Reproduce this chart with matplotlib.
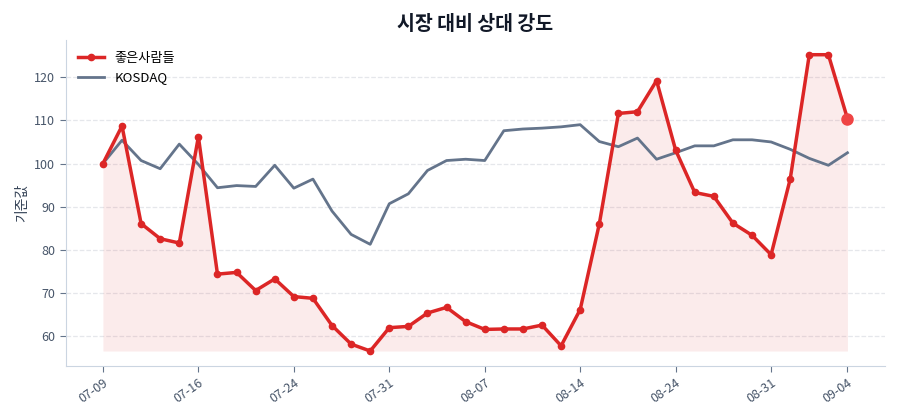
import matplotlib
matplotlib.use("Agg")
import matplotlib.pyplot as plt
import numpy as np

plt.rcParams['font.family'] = ['Noto Sans CJK KR', 'DejaVu Sans']

dates = ['07-09', '07-10', '07-11', '07-14', '07-15', '07-16', '07-17', '07-18', '07-21', '07-23',
         '07-24', '07-25', '07-28', '07-29', '07-30', '07-31', '08-01', '08-04', '08-05', '08-06',
         '08-07', '08-08', '08-11', '08-12', '08-13', '08-14', '08-18', '08-19', '08-20', '08-21',
         '08-24', '08-25', '08-26', '08-27', '08-28', '08-31', '09-01', '09-02', '09-03', '09-04']

stock = [100.0, 108.7, 86.1, 82.6, 81.6, 106.2, 74.4, 74.8, 70.6, 73.3,
         69.2, 68.8, 62.5, 58.2, 56.6, 62.0, 62.3, 65.4, 66.7, 63.4,
         61.6, 61.7, 61.7, 62.6, 57.8, 66.2, 86.0, 111.6, 112.0, 119.2,
         103.1, 93.3, 92.4, 86.2, 83.4, 78.9, 96.4, 125.2, 125.2, 110.4]

kosdaq = [100.0, 105.4, 100.7, 98.8, 104.5, 99.8, 94.4, 94.9, 94.7, 99.6,
          94.3, 96.4, 89.0, 83.6, 81.3, 90.7, 93.0, 98.4, 100.7, 101.0,
          100.7, 107.6, 108.0, 108.2, 108.5, 109.0, 105.1, 103.9, 105.9, 101.0,
          102.5, 104.1, 104.1, 105.5, 105.5, 105.0, 103.3, 101.2, 99.6, 102.5]

stock_name = '좋은사람들'
red = '#DC2626'
slate = '#64748B'

x = np.arange(len(dates))

fig, ax = plt.subplots(figsize=(9, 4.2), dpi=100)
fig.subplots_adjust(left=0.073, right=0.983, bottom=0.129, top=0.905)

ax.fill_between(x, stock, min(stock), color=red, alpha=0.09, linewidth=0)
ax.plot(x, stock, color=red, linewidth=2.5, marker='o', markersize=4.5, label=stock_name, zorder=3)
ax.plot(x, kosdaq, color=slate, linewidth=2, label='KOSDAQ', zorder=2)
ax.plot(x[-1], stock[-1], 'o', color='#EF4444', markersize=8, zorder=4)

tick_idx = list(range(0, len(dates), 5)) + [len(dates) - 1]
ax.set_xticks(tick_idx)
ax.set_xticklabels([dates[i] for i in tick_idx], rotation=35, ha='right', rotation_mode='anchor')

ax.set_title('시장 대비 상대 강도', fontsize=14, fontweight='bold', color='#111827', pad=7)
ax.set_ylabel('기준값', fontsize=10, color='#334155')

ax.grid(axis='y', linestyle='--', color='#E5E7EB', linewidth=0.9)
ax.set_axisbelow(True)
for s in ['top', 'right']:
    ax.spines[s].set_visible(False)
for s in ['left', 'bottom']:
    ax.spines[s].set_color('#CBD5E1')
ax.tick_params(colors='#475569', labelsize=9)
ax.tick_params(axis='both', color='#64748B', length=4)

ax.legend(loc='upper left', frameon=False, fontsize=9.5)

plt.savefig('out.png', dpi=100)
